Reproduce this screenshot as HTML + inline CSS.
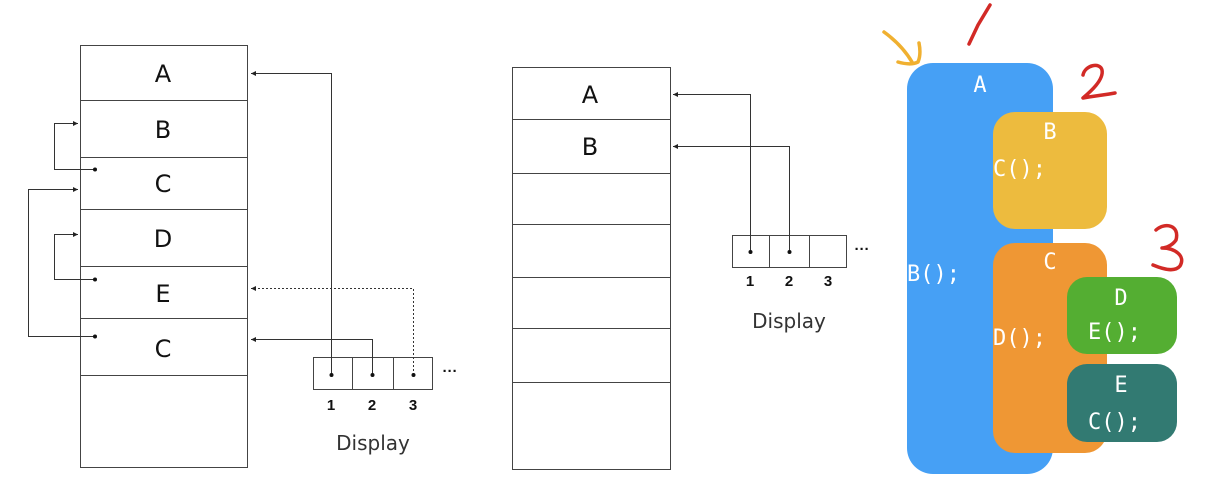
<!DOCTYPE html>
<html><head><meta charset="utf-8"><style>
html,body{margin:0;padding:0;background:#fff;}
svg{display:block;}
</style></head><body>
<svg width="1232" height="492" viewBox="0 0 1232 492" xmlns="http://www.w3.org/2000/svg">
<defs>
<marker id="ar" markerWidth="6" markerHeight="6" refX="5" refY="3" orient="auto" markerUnits="userSpaceOnUse">
<path d="M0,0.5 L5,3 L0,5.5 z" fill="#222"/></marker>
</defs>
<g fill="none" stroke="#444" stroke-width="1">
<!-- left stack -->
<rect x="80.5" y="45.5" width="167" height="422"/>
<line x1="80" y1="100.5" x2="248" y2="100.5"/>
<line x1="80" y1="157.5" x2="248" y2="157.5"/>
<line x1="80" y1="209.5" x2="248" y2="209.5"/>
<line x1="80" y1="266.5" x2="248" y2="266.5"/>
<line x1="80" y1="318.5" x2="248" y2="318.5"/>
<line x1="80" y1="375.5" x2="248" y2="375.5"/>
<!-- display left -->
<rect x="313.5" y="357.5" width="119" height="32"/>
<line x1="352.5" y1="357" x2="352.5" y2="390"/>
<line x1="393.5" y1="357" x2="393.5" y2="390"/>
<!-- middle stack -->
<rect x="512.5" y="67.5" width="158" height="402"/>
<line x1="512" y1="119.5" x2="671" y2="119.5"/>
<line x1="512" y1="173.5" x2="671" y2="173.5"/>
<line x1="512" y1="224.5" x2="671" y2="224.5"/>
<line x1="512" y1="277.5" x2="671" y2="277.5"/>
<line x1="512" y1="328.5" x2="671" y2="328.5"/>
<line x1="512" y1="382.5" x2="671" y2="382.5"/>
<rect x="732.5" y="235.5" width="114" height="32"/>
<line x1="769.5" y1="235" x2="769.5" y2="268"/>
<line x1="809.5" y1="235" x2="809.5" y2="268"/>
</g>
<g fill="none" stroke="#333" stroke-width="1">
<polyline points="331.5,375 331.5,73.5 251,73.5" marker-end="url(#ar)"/>
<polyline points="372.5,375 372.5,339.5 251,339.5" marker-end="url(#ar)"/>
<polyline points="413.5,375 413.5,288.5 251,288.5" stroke-dasharray="2,2" marker-end="url(#ar)"/>
<polyline points="95,169.5 54.5,169.5 54.5,123.5 78,123.5" marker-end="url(#ar)"/>
<polyline points="95,279.5 54.5,279.5 54.5,234.5 78,234.5" marker-end="url(#ar)"/>
<polyline points="95,336.5 28.5,336.5 28.5,189.5 78,189.5" marker-end="url(#ar)"/>
<polyline points="750.5,252 750.5,94.5 673,94.5" marker-end="url(#ar)"/>
<polyline points="789.5,252 789.5,146.5 673,146.5" marker-end="url(#ar)"/>
</g>
<g fill="#111">
<circle cx="331.5" cy="375" r="2"/><circle cx="372.5" cy="375" r="2"/><circle cx="413.5" cy="375" r="2"/>
<circle cx="95" cy="169.5" r="2"/><circle cx="95" cy="279.5" r="2"/><circle cx="95" cy="336.5" r="2"/>
<circle cx="750.5" cy="252" r="2"/><circle cx="789.5" cy="252" r="2"/>
</g>
<g font-family="DejaVu Sans, Liberation Sans, sans-serif" font-size="24" text-anchor="middle" fill="#111">
<text x="163" y="82">A</text><text x="163" y="138">B</text><text x="163" y="192">C</text>
<text x="163" y="247">D</text><text x="163" y="302">E</text><text x="163" y="357">C</text>
<text x="590" y="103">A</text><text x="590" y="155">B</text>
</g>
<g font-family="Liberation Sans, sans-serif" font-size="15" font-weight="bold" text-anchor="middle" fill="#111">
<text x="331" y="410">1</text><text x="372" y="410">2</text><text x="413" y="410">3</text>
<text x="750" y="286">1</text><text x="789" y="286">2</text><text x="828" y="286">3</text>
<text x="450" y="376">···</text><text x="862" y="254">···</text>
</g>
<g font-family="DejaVu Sans, sans-serif" font-size="20" text-anchor="middle" fill="#333">
<text x="373" y="450">Display</text><text x="789" y="328">Display</text>
</g>
<!-- right colored -->
<rect x="907" y="63" width="146" height="411" rx="26" fill="#46a0f5"/>
<rect x="993" y="243" width="114" height="210" rx="22" fill="#ef9734"/>
<rect x="993" y="112" width="114" height="117" rx="22" fill="#edbb3e"/>
<rect x="1067" y="277" width="110" height="77" rx="20" fill="#54ae32"/>
<rect x="1067" y="364" width="110" height="78" rx="20" fill="#327a72"/>
<g font-family="DejaVu Sans Mono, Liberation Mono, monospace" font-size="22" fill="#fff">
<text x="980" y="92" text-anchor="middle">A</text>
<text x="907" y="281">B();</text>
<text x="1050" y="139" text-anchor="middle">B</text>
<text x="993" y="176">C();</text>
<text x="1050" y="269" text-anchor="middle">C</text>
<text x="993" y="345">D();</text>
<text x="1121" y="305" text-anchor="middle">D</text>
<text x="1088" y="339">E();</text>
<text x="1121" y="392" text-anchor="middle">E</text>
<text x="1088" y="429">C();</text>
</g>
<g fill="none" stroke-linecap="round" stroke-linejoin="round" stroke-width="3.5">
<path d="M969,44 L978,25 L990,5" stroke="#d22a26"/>
<path d="M1083,75 C1085,65 1100,62 1102,70 C1104,80 1090,92 1083,98 C1093,96 1105,95 1115,93" stroke="#d22a26"/>
<path d="M1156,230 C1165,222 1180,225 1176,240 C1172,246 1165,248 1162,248 C1175,248 1186,256 1180,266 C1175,272 1165,270 1153,265" stroke="#d22a26"/>
<path d="M884,32 C895,40 905,50 912,62 M898,62 C905,64 912,65 918,62 C921,55 920,48 919,43" stroke="#f0b030"/>
</g>
</svg>
</body></html>
